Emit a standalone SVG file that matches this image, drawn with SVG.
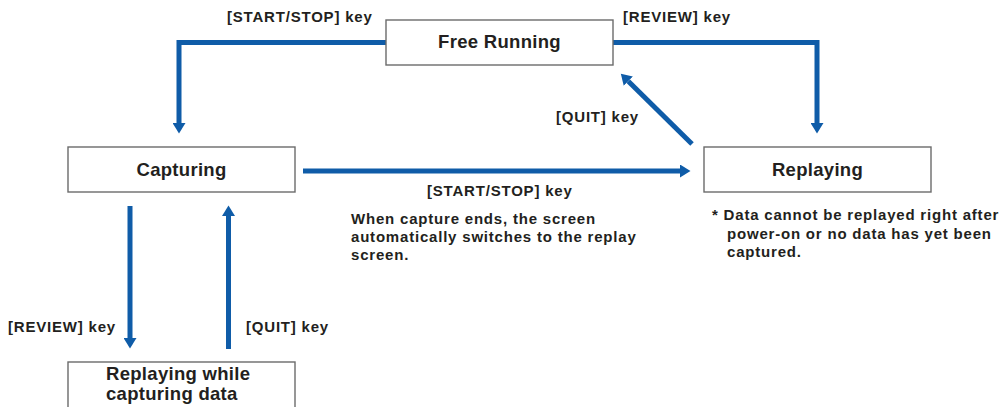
<svg xmlns="http://www.w3.org/2000/svg" width="1000" height="407" viewBox="0 0 1000 407">
<defs>
<marker id="ah" markerUnits="userSpaceOnUse" markerWidth="11" markerHeight="13" refX="0" refY="6.5" orient="auto">
<path d="M0,0 L10.5,6.5 L0,13 Z" fill="#0f5ca8"/>
</marker>
<style>
.box{fill:#fff;stroke:#6b6b6b;stroke-width:1.4}
.nt{font-family:"Liberation Sans",Arial,sans-serif;font-weight:bold;font-size:18.5px;letter-spacing:0.3px;fill:#231f20}
.lb{font-family:"Liberation Sans",Arial,sans-serif;font-weight:bold;font-size:15px;letter-spacing:0.8px;fill:#231f20}
.cn{fill:none;stroke:#0f5ca8;stroke-width:5;marker-end:url(#ah)}
</style>
</defs>
<rect width="1000" height="407" fill="#fff"/>
<g id="connectors">
<path class="cn" d="M386,42.5 H179 V123"/>
<path class="cn" d="M613,42.5 H817 V123"/>
<path class="cn" d="M692,144 L628.3,81.2"/>
<path class="cn" d="M303,171 H680"/>
<path class="cn" d="M130,206 V338"/>
<path class="cn" d="M228.5,349 V216"/>
</g>
<g id="node-free-running">
<rect class="box" x="386" y="20" width="227" height="45"/>
<text class="nt" x="499.5" y="48" text-anchor="middle">Free Running</text>
</g>
<g id="node-capturing">
<rect class="box" x="68" y="147" width="227" height="45"/>
<text class="nt" x="181.5" y="176" text-anchor="middle">Capturing</text>
</g>
<g id="node-replaying">
<rect class="box" x="704" y="147" width="227" height="45"/>
<text class="nt" x="817.5" y="176" text-anchor="middle">Replaying</text>
</g>
<g id="node-replaying-while">
<rect class="box" x="68" y="362" width="227" height="60"/>
<text class="nt" x="106" y="380">Replaying while</text>
<text class="nt" x="106" y="399.5">capturing data</text>
</g>
<g id="labels">
<text class="lb" x="227" y="22">[START/STOP] key</text>
<text class="lb" x="623" y="22">[REVIEW] key</text>
<text class="lb" x="556" y="122">[QUIT] key</text>
<text class="lb" x="427" y="196">[START/STOP] key</text>
<text class="lb" x="351" y="224">When capture ends, the screen</text>
<text class="lb" x="351" y="242">automatically switches to the replay</text>
<text class="lb" x="351" y="260">screen.</text>
<text class="lb" x="712" y="220">* Data cannot be replayed right after</text>
<text class="lb" x="727" y="238.5">power-on or no data has yet been</text>
<text class="lb" x="727" y="257">captured.</text>
<text class="lb" x="8" y="332">[REVIEW] key</text>
<text class="lb" x="246" y="332">[QUIT] key</text>
</g>
</svg>
